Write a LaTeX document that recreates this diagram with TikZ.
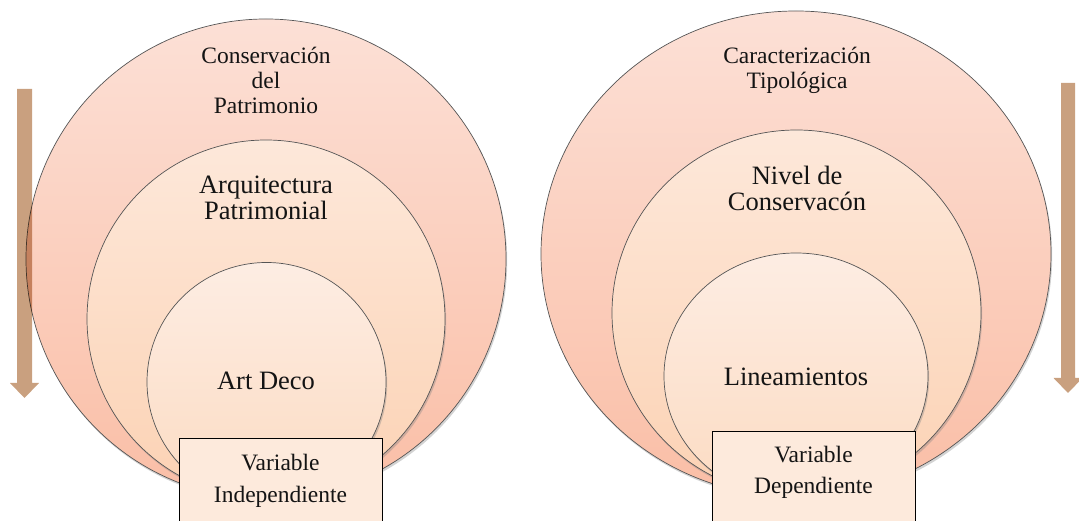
\documentclass[tikz,border=0pt]{standalone}
\usepackage{fontspec}
\setmainfont{Liberation Serif}
\usetikzlibrary{shapes.geometric,shadows}
\definecolor{outerT}{RGB}{252,224,214}
\definecolor{outerB}{RGB}{250,190,166}
\definecolor{midT}{RGB}{253,232,218}
\definecolor{midB}{RGB}{252,210,180}
\definecolor{innT}{RGB}{253,237,227}
\definecolor{innB}{RGB}{252,219,194}
\definecolor{boxfill}{RGB}{253,234,220}
\definecolor{arrowc}{RGB}{201,160,127}
\definecolor{ringline}{RGB}{85,85,85}
\definecolor{txt}{RGB}{20,20,20}
\tikzset{
  ring/.style={ellipse, draw=ringline, line width=0.7pt, inner sep=0pt, outer sep=0pt,
    drop shadow={opacity=0.35, shadow xshift=1.2pt, shadow yshift=-2.4pt}},
  outerring/.style={ring, top color=outerT, bottom color=outerB},
  midring/.style={ring, top color=midT, bottom color=midB},
  innring/.style={ring, top color=innT, bottom color=innB},
  varbox/.style={draw=black, line width=1.1pt, fill=boxfill, minimum width=203pt,
    minimum height=110pt, anchor=north west, inner sep=0pt},
  smalltxt/.style={align=center, text=txt, font=\fontsize{23.5}{25}\selectfont},
  bigtxt/.style={align=center, text=txt, font=\fontsize{26.5}{26.5}\selectfont},
  boxtxt/.style={align=center, text=txt, font=\fontsize{23.5}{31.5}\selectfont},
  downarrow/.style={fill=arrowc, blend mode=multiply}
}
\begin{document}
\begin{tikzpicture}[x=1pt,y=1pt]
\useasboundingbox (0,0) rectangle (1079,521);
% left group
\node[outerring, minimum width=480pt, minimum height=480pt] (L1) at (266,262) {};
\node[midring, minimum width=358pt, minimum height=358pt] (L2) at (266,202) {};
\node[innring, minimum width=239pt, minimum height=239pt] (L3) at (266.5,139) {};
\node[smalltxt] (L1t) at (266,441) {Conservación\\del\\Patrimonio};
\node[bigtxt] (L2t) at (266,323) {Arquitectura\\Patrimonial};
\node[bigtxt] (L3t) at (266,140) {Art Deco};
\node[varbox] (LB) at (179,83) {};
\node[boxtxt] (LBt) at (280.5,40) {Variable\\Independiente};
% right group
\node[outerring, minimum width=510pt, minimum height=486pt] (R1) at (796,267) {};
\node[midring, minimum width=369pt, minimum height=366pt] (R2) at (796.5,208) {};
\node[innring, minimum width=264pt, minimum height=246pt] (R3) at (796,145) {};
\node[smalltxt] (R1t) at (797,450.5) {Caracterización\\Tipológica};
\node[bigtxt] (R2t) at (797,332.5) {Nivel de\\Conservacón};
\node[bigtxt] (R3t) at (796,144) {Lineamientos};
\node[varbox] (RB) at (712,90) {};
\node[boxtxt] (RBt) at (813.5,48.5) {Variable\\Dependiente};
% arrows
\fill[downarrow] (17,432) -- (32,432) -- (32,138) -- (39,138) -- (24.5,123) -- (10,138) -- (17,138) -- cycle;
\fill[downarrow] (1061,438) -- (1075,438) -- (1075,143) -- (1082.5,143) -- (1068,128) -- (1053.5,143) -- (1061,143) -- cycle;
\end{tikzpicture}
\end{document}
